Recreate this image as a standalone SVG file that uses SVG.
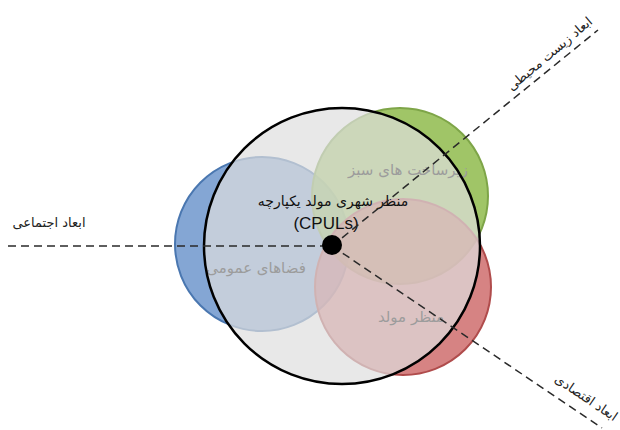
<svg xmlns="http://www.w3.org/2000/svg" width="620" height="430" viewBox="0 0 620 430">
  <style>
    .fa { font-family: "DejaVu Sans", "Noto Sans", sans-serif; text-anchor: middle; direction: rtl; }
    .lbl { font-size: 13px; fill: #222; }
    .gray { font-size: 15px; fill: #9c9c9c; }
    .dash { fill: none; stroke: #2a2a2a; stroke-width: 1.5; stroke-dasharray: 8 5; }
  </style>
  <rect width="620" height="430" fill="#ffffff"/>
  <g id="social-circle">
    <circle cx="262" cy="244" r="87" fill="#6f96cc" fill-opacity="0.85" stroke="#4a77b0" stroke-width="2"/>
  </g>
  <g id="green-circle">
    <circle cx="400" cy="196" r="88" fill="#8fbb4c" fill-opacity="0.85" stroke="#7ea548" stroke-width="2"/>
  </g>
  <g id="red-circle">
    <circle cx="403" cy="287" r="88" fill="#c85a5a" fill-opacity="0.75" stroke="#b04c4c" stroke-width="2"/>
  </g>
  <g id="cpuls">
    <circle cx="342" cy="246" r="138" fill="#dedede" fill-opacity="0.7"/>
  </g>
  <g id="labels-inner">
    <text class="fa gray" x="408" y="175" font-size="16">زیرساخت های سبز</text>
    <text class="fa gray" x="256" y="273">فضاهای عمومی</text>
    <text class="fa gray" x="411" y="322">منظر مولد</text>
  </g>
  <g id="cpuls-outline">
    <circle cx="342" cy="246" r="138" fill="none" stroke="#000" stroke-width="2.5"/>
    <text class="fa" x="333" y="206" font-size="14" fill="#111">منظر شهری مولد یکپارچه</text>
    <text x="326" y="229" font-family="Liberation Sans, Arial, sans-serif" font-size="17" fill="#111" text-anchor="middle">(CPULs)</text>
  </g>
  <g id="connectors">
    <line class="dash" x1="8" y1="246" x2="332" y2="246"/>
    <line class="dash" x1="332" y1="246" x2="598" y2="30"/>
    <line class="dash" x1="332" y1="246" x2="602" y2="428"/>
  </g>
  <g id="center">
    <circle cx="332" cy="245" r="10" fill="#000"/>
  </g>
  <g id="axis-social">
    <text class="fa lbl" x="49" y="227">ابعاد اجتماعی</text>
  </g>
  <g id="axis-environment">
    <text class="fa lbl" transform="translate(550 54) rotate(-40)" x="0" y="4" font-size="14">ابعاد زیست محیطی</text>
  </g>
  <g id="axis-economic">
    <text class="fa lbl" transform="translate(586 398) rotate(34)" x="0" y="4">ابعاد اقتصادی</text>
  </g>
</svg>
